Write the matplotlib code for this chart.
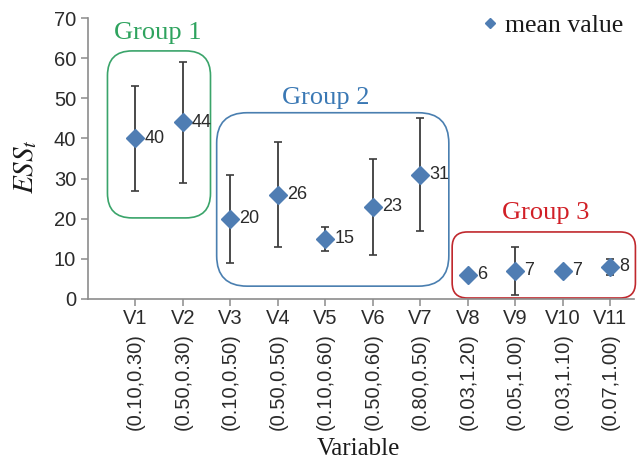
import matplotlib
matplotlib.use("Agg")
import matplotlib.pyplot as plt
from matplotlib.patches import FancyBboxPatch
import numpy as np

# Data
variables = ["V1", "V2", "V3", "V4", "V5", "V6", "V7", "V8", "V9", "V10", "V11"]
params = ["(0.10,0.30)", "(0.50,0.30)", "(0.10,0.50)", "(0.50,0.50)", "(0.10,0.60)",
          "(0.50,0.60)", "(0.80,0.50)", "(0.03,1.20)", "(0.05,1.00)", "(0.03,1.10)",
          "(0.07,1.00)"]
mean_ess = [40, 44, 20, 26, 15, 23, 31, 6, 7, 7, 8]
ess_err = [13, 15, 11, 13, 3, 12, 14, 1, 6, 1, 2]

# Group annotations: (label, edge colour, text colour, x0, x1, y0, y1,
#                     corner radius, label x, label y)
groups = [
    ("Group 1", "#3aa46a", "#2ea35e", -0.59, 1.58, 20.2, 61.8, 0.52, 0.46, 66.3),
    ("Group 2", "#4a7fb0", "#3a78b4", 1.71, 6.60, 3.2, 46.4, 0.64, 4.01, 50.1),
    ("Group 3", "#c0282d", "#d11f26", 6.67, 10.53, 0.25, 16.7, 0.32, 8.63, 21.4),
]

plt.rcParams["mathtext.fontset"] = "stix"
sans = "Liberation Sans"
serif = "Liberation Serif"

fig = plt.figure(figsize=(6.37, 4.63), dpi=100)
ax = fig.add_axes([88 / 637, 164 / 463, 546 / 637, 281 / 463])

x = np.arange(len(variables))
ax.set_xlim(-1.0, 10.5)
ax.set_ylim(0, 70)

ax.errorbar(x, mean_ess, yerr=ess_err, fmt="none", ecolor="#3c3c3c",
            elinewidth=1.3, capsize=3.2, capthick=1.2, zorder=3)
ax.plot(x, mean_ess, linestyle="none", marker="D", markersize=8.7,
        color="#4f7db3", label="mean value", zorder=4)

for xi, v in zip(x, mean_ess):
    ax.annotate(f"{v}", xy=(xi, v), xytext=(6.5, 0), textcoords="offset points",
                ha="left", va="center", fontsize=13, family=sans, color="#2b2b2b",
                zorder=5)

# Rounded group boxes (corner radius kept circular in screen space)
fig.canvas.draw()
p0 = ax.transData.transform((0, 0))
p1 = ax.transData.transform((1, 1))
aspect = (p1[0] - p0[0]) / (p1[1] - p0[1])
for (name, edge, tcol, x0, x1, y0, y1, r, lx, ly) in groups:
    box = FancyBboxPatch((x0, y0), x1 - x0, y1 - y0,
                         boxstyle=f"round,pad=0,rounding_size={r}",
                         mutation_aspect=aspect, facecolor="none",
                         edgecolor=edge, linewidth=1.2, clip_on=False, zorder=2)
    ax.add_patch(box)
    ax.text(lx, ly, name, ha="center", va="center", fontsize=19,
            family=serif, color=tcol)

# Axes styling
for side in ("top", "right"):
    ax.spines[side].set_visible(False)
for side in ("left", "bottom"):
    ax.spines[side].set_color("#8c8c8c")
    ax.spines[side].set_linewidth(1.2)

ax.set_yticks(np.arange(0, 71, 10))
ax.tick_params(axis="both", direction="out", length=5, width=1.1, color="#8c8c8c",
               labelsize=14.5, labelcolor="#2b2b2b")
ax.tick_params(axis="x", pad=2.5)
ax.set_xticks(x)
ax.set_xticklabels(variables, family=sans)
for lbl in ax.get_yticklabels():
    lbl.set_family(sans)

for xi, p in zip(x, params):
    ax.annotate(p, xy=(xi, 0), xycoords=("data", "axes fraction"),
                xytext=(0, -24.5), textcoords="offset points", rotation=90,
                ha="center", va="top", fontsize=14.5, family=sans, color="#2b2b2b",
                annotation_clip=False)

ax.set_xlabel("Variable", fontsize=18, family=serif, color="#1a1a1a")
ax.xaxis.set_label_coords(0.495, -0.495)
ax.set_ylabel(r"$ESS_t$", fontsize=21, color="#1a1a1a")
ax.yaxis.set_label_coords(-0.09, 0.47)

leg = ax.legend(loc="upper right", bbox_to_anchor=(1.0, 1.05), frameon=False,
                handlelength=0.5, handletextpad=0.35, markerscale=0.55,
                borderaxespad=0.0, prop={"family": serif, "size": 18.5})
for t in leg.get_texts():
    t.set_color("#1a1a1a")

fig.savefig("out.png", dpi=100)
